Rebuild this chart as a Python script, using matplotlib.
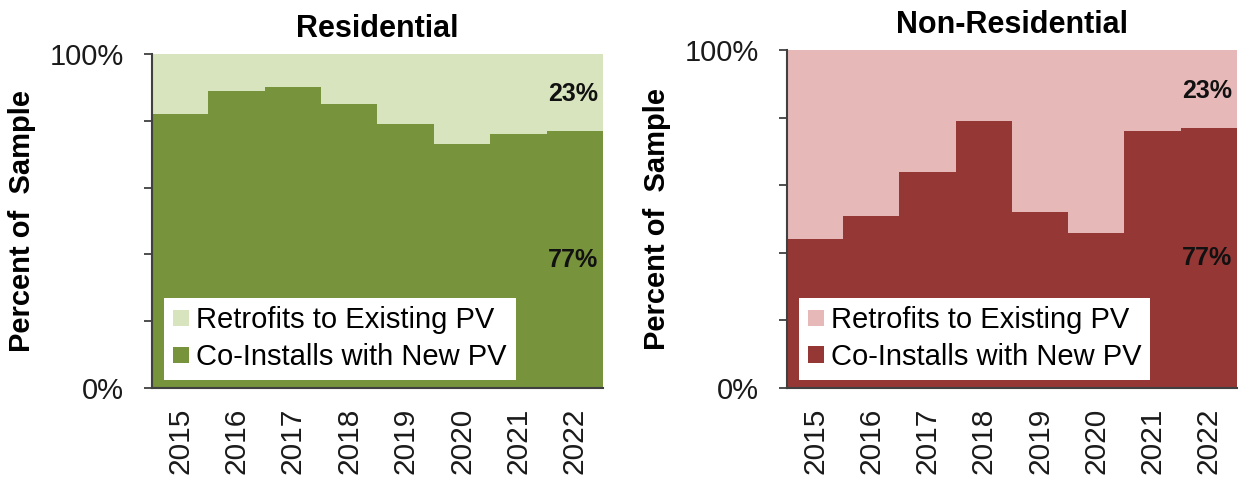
import numpy as np
import matplotlib
matplotlib.use("Agg")
import matplotlib.pyplot as plt

plt.rcParams['font.family'] = ['Liberation Sans', 'DejaVu Sans']

years = ['2015', '2016', '2017', '2018', '2019', '2020', '2021', '2022']

# share of co-installs with new PV (percent); retrofits are the remainder
res_coinstall = [82, 89, 90, 85, 79, 73, 76, 77]
nonres_coinstall = [44, 51, 64, 79, 52, 46, 76, 77]

panels = [
    ('Residential', res_coinstall, '#77933C', '#D7E4BD'),
    ('Non-Residential', nonres_coinstall, '#953735', '#E6B9B8'),
]

fig = plt.figure(figsize=(12.43, 4.83), dpi=100)
axes_pos = [[0.1223, 0.1967, 0.3628, 0.6915],
            [0.6331, 0.1967, 0.3620, 0.6998]]

x = np.arange(len(years))
for (title, co, dark, light), pos in zip(panels, axes_pos):
    ax = fig.add_axes(pos)
    co = np.array(co)
    retro = 100 - co
    ax.bar(x, retro, width=1.0, bottom=co, color=light, label='Retrofits to Existing PV', linewidth=0)
    ax.bar(x, co, width=1.0, color=dark, label='Co-Installs with New PV', linewidth=0)
    ax.set_xlim(-0.5, len(years) - 0.5)
    ax.set_ylim(0, 100)
    ax.set_yticks([0, 20, 40, 60, 80, 100])
    ax.set_yticklabels(['0%', '', '', '', '', '100%'], fontsize=21, color='#1a1a1a')
    ax.set_xticks(x)
    ax.set_xticklabels(years, rotation=90, fontsize=21.5, color='#1a1a1a')
    ax.tick_params(axis='x', length=0, pad=14)
    ax.tick_params(axis='y', length=6, width=1.3, color='#404040', pad=14)
    for s in ['top', 'right']:
        ax.spines[s].set_visible(False)
    for s in ['left', 'bottom']:
        ax.spines[s].set_color('#404040')
        ax.spines[s].set_linewidth(1.5)
    ax.set_title(title, fontsize=22, fontweight='bold', pad=12)
    ax.set_ylabel('Percent of  Sample', fontsize=21, fontweight='bold', labelpad=10)

    ax.text(0.99, 0.88, f'{100 - co[-1]}%', transform=ax.transAxes, ha='right', va='center',
            fontsize=18, fontweight='bold', color='#111111')
    ax.text(0.99, 0.384, f'{co[-1]}%', transform=ax.transAxes, ha='right', va='center',
            fontsize=18, fontweight='bold', color='#111111')

    leg = ax.legend(loc='lower left', bbox_to_anchor=(0.027, 0.024), fontsize=21,
                    frameon=True, fancybox=False, framealpha=1, edgecolor='white',
                    handlelength=0.55, handleheight=0.5, handletextpad=0.25,
                    borderpad=0.3, labelspacing=0.3, borderaxespad=0)
    leg.get_frame().set_linewidth(0)

fig.savefig('out.png', dpi=100)
